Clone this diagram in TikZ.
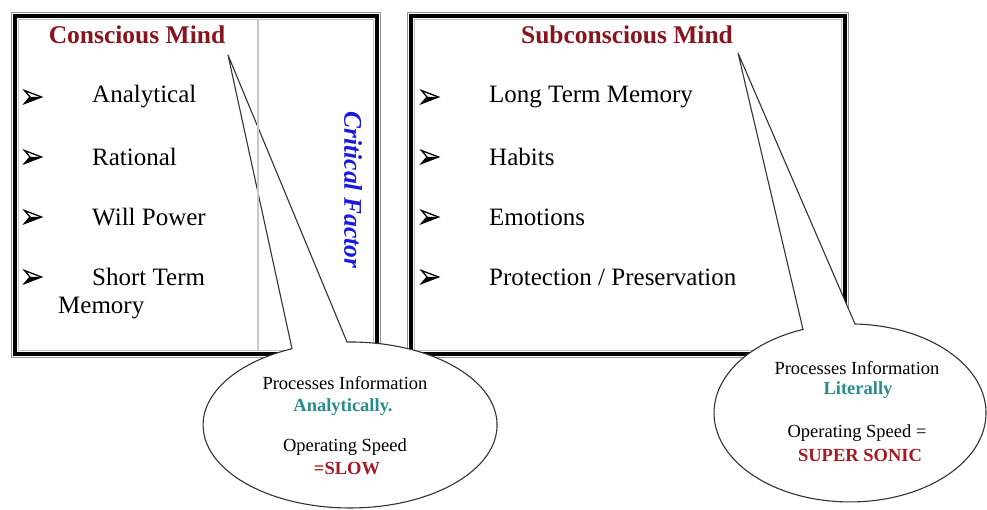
\documentclass[tikz,border=0pt]{standalone}
\usepackage{fontspec}
\setmainfont{Liberation Serif}
\definecolor{mindred}{RGB}{135,20,30}
\definecolor{slowred}{RGB}{165,25,35}
\definecolor{tealtext}{RGB}{40,140,140}
\definecolor{cfblue}{RGB}{25,25,225}
\definecolor{framegray}{RGB}{150,150,150}
\begin{document}
\begin{tikzpicture}[x=1pt,y=-1pt,
  head/.style={font=\fontsize{25.5}{28}\selectfont\bfseries, text=mindred, inner sep=0},
  item/.style={font=\fontsize{25}{28}\selectfont, anchor=west, inner sep=0},
  note/.style={font=\fontsize{18.5}{21}\selectfont, inner sep=0},
  notebold/.style={note, font=\fontsize{18.5}{21}\selectfont\bfseries},
  callout/.style={draw=black!80, line width=1.1pt, fill=white, line join=round},
  blackframe/.style={draw=black, line width=3.5pt},
  grayframe/.style={draw=framegray, line width=1.5pt},
  innerframe/.style={draw=framegray!60, line width=0.8pt},
  arrowbul/.pic={
    \fill[black] (-8.5,6.5) -- (-3,0) -- (8.5,0) -- cycle;
    \draw[black, line width=1.3pt, line join=miter] (-8.5,-6.5) -- (8.5,0) -- (-8.5,6.5) -- (-3,0) -- cycle;
  },
]
\useasboundingbox[fill=white] (0,0) rectangle (987,510);

% frames
\draw[grayframe] (11.5,12.5) rectangle (380.5,357.5);
\draw[blackframe] (15,16) rectangle (377,354);
\draw[innerframe] (18.5,19.5) rectangle (373.5,350.5);
\draw[grayframe] (407.5,12.5) rectangle (848.5,357.5);
\draw[blackframe] (411,16) rectangle (845,354);
\draw[innerframe] (414.5,19.5) rectangle (841.5,350.5);

% headings
\node[head] (cm) at (137,35) {Conscious Mind};
\node[head] (sm) at (627,35) {Subconscious Mind};

% left list
\pic (lb1) at (33,97) {arrowbul};
\pic (lb2) at (33,157) {arrowbul};
\pic (lb3) at (33,217) {arrowbul};
\pic (lb4) at (33,277) {arrowbul};
\node[item] (l1) at (92,97) {Analytical};
\node[item] (l2) at (92,157) {Rational};
\node[item] (l3) at (92,217) {Will Power};
\node[item] (l4) at (92,277) {Short Term};
\node[item] (l5) at (58,308) {Memory};

% right list
\pic (rb1) at (430,97) {arrowbul};
\pic (rb2) at (430,157) {arrowbul};
\pic (rb3) at (430,217) {arrowbul};
\pic (rb4) at (430,277) {arrowbul};
\node[item] (r1) at (489,97) {Long Term Memory};
\node[item] (r2) at (489,157) {Habits};
\node[item] (r3) at (489,217) {Emotions};
\node[item] (r4) at (489,277) {Protection / Preservation};

% critical factor
\node[font=\fontsize{25.5}{28}\selectfont\bfseries\itshape, text=cfblue, rotate=-90, inner sep=0] (cf) at (353,190) {Critical Factor};

% callouts
\coordinate (t1) at (228,55);
\path[callout] (292,348.7) -- (t1) -- (347,342) arc[start angle=268.8, end angle=606.8, x radius=147, y radius=83] -- cycle;
\coordinate (t2) at (738,53);
\path[callout] (803,329.5) -- (t2) -- (855,324) arc[start angle=272.1, end angle=609.8, x radius=136, y radius=89] -- cycle;

% divider
\draw[draw=black!22, line width=1.2pt] (258,20) -- (258,350);

% callout texts
\node[note] (p1) at (345,383) {Processes Information};
\node[notebold, text=tealtext] (a1) at (343,407) {Analytically.};
\node[note] (o1) at (345,447) {Operating Speed};
\node[notebold, text=slowred] (s1) at (347,469) {=SLOW};

\node[note] (p2) at (857,368) {Processes Information};
\node[notebold, text=tealtext] (a2) at (858,390) {Literally};
\node[note] (o2) at (857,433) {Operating Speed =};
\node[notebold, text=slowred] (s2) at (860,455) {SUPER SONIC};
\end{tikzpicture}
\end{document}
